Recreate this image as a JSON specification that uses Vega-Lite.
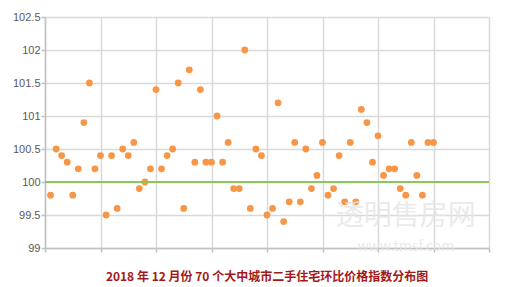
{
  "$schema": "https://vega.github.io/schema/vega-lite/v6.json",
  "width": 444,
  "height": 231,
  "autosize": {"type": "none"},
  "padding": {"left": 45, "top": 17, "right": 22, "bottom": 39},
  "background": "white",
  "config": {
    "view": {"stroke": null},
    "axis": {"gridColor": "#d9d9d9", "gridWidth": 1.5, "domainColor": "#c0c0c0", "domainWidth": 1.5, "tickColor": "#c0c0c0", "tickWidth": 1.5, "labelFont": "Liberation Sans", "labelFontSize": 11, "labelColor": "#595959", "labelOverlap": false}
  },
  "title": {
    "text": "2018 年 12 月份 70 个大中城市二手住宅环比价格指数分布图",
    "orient": "bottom",
    "anchor": "middle",
    "font": "Noto Sans CJK SC",
    "fontSize": 12,
    "fontWeight": "bold",
    "color": "#a31818",
    "offset": 18
  },
  "data": {
    "values": [
      {"i": 1, "v": 99.8}, {"i": 2, "v": 100.5}, {"i": 3, "v": 100.4}, {"i": 4, "v": 100.3}, {"i": 5, "v": 99.8},
      {"i": 6, "v": 100.2}, {"i": 7, "v": 100.9}, {"i": 8, "v": 101.5}, {"i": 9, "v": 100.2}, {"i": 10, "v": 100.4},
      {"i": 11, "v": 99.5}, {"i": 12, "v": 100.4}, {"i": 13, "v": 99.6}, {"i": 14, "v": 100.5}, {"i": 15, "v": 100.4},
      {"i": 16, "v": 100.6}, {"i": 17, "v": 99.9}, {"i": 18, "v": 100.0}, {"i": 19, "v": 100.2}, {"i": 20, "v": 101.4},
      {"i": 21, "v": 100.2}, {"i": 22, "v": 100.4}, {"i": 23, "v": 100.5}, {"i": 24, "v": 101.5}, {"i": 25, "v": 99.6},
      {"i": 26, "v": 101.7}, {"i": 27, "v": 100.3}, {"i": 28, "v": 101.4}, {"i": 29, "v": 100.3}, {"i": 30, "v": 100.3},
      {"i": 31, "v": 101.0}, {"i": 32, "v": 100.3}, {"i": 33, "v": 100.6}, {"i": 34, "v": 99.9}, {"i": 35, "v": 99.9},
      {"i": 36, "v": 102.0}, {"i": 37, "v": 99.6}, {"i": 38, "v": 100.5}, {"i": 39, "v": 100.4}, {"i": 40, "v": 99.5},
      {"i": 41, "v": 99.6}, {"i": 42, "v": 101.2}, {"i": 43, "v": 99.4}, {"i": 44, "v": 99.7}, {"i": 45, "v": 100.6},
      {"i": 46, "v": 99.7}, {"i": 47, "v": 100.5}, {"i": 48, "v": 99.9}, {"i": 49, "v": 100.1}, {"i": 50, "v": 100.6},
      {"i": 51, "v": 99.8}, {"i": 52, "v": 99.9}, {"i": 53, "v": 100.4}, {"i": 54, "v": 99.7}, {"i": 55, "v": 100.6},
      {"i": 56, "v": 99.7}, {"i": 57, "v": 101.1}, {"i": 58, "v": 100.9}, {"i": 59, "v": 100.3}, {"i": 60, "v": 100.7},
      {"i": 61, "v": 100.1}, {"i": 62, "v": 100.2}, {"i": 63, "v": 100.2}, {"i": 64, "v": 99.9}, {"i": 65, "v": 99.8},
      {"i": 66, "v": 100.6}, {"i": 67, "v": 100.1}, {"i": 68, "v": 99.8}, {"i": 69, "v": 100.6}, {"i": 70, "v": 100.6}
    ]
  },
  "layer": [
    {
      "mark": {"type": "circle", "size": 46, "color": "#f79646", "opacity": 1},
      "encoding": {
        "x": {"field": "i", "type": "quantitative", "scale": {"domain": [0, 80], "nice": false},
              "axis": {"title": null, "values": [0, 10, 20, 30, 40, 50, 60, 70, 80], "labels": false, "tickSize": 4, "grid": true}},
        "y": {"field": "v", "type": "quantitative", "scale": {"domain": [99, 102.5], "nice": false, "zero": false},
              "axis": {"title": null, "values": [99, 99.5, 100, 100.5, 101, 101.5, 102, 102.5], "format": "~g", "tickSize": 4, "labelPadding": 1, "grid": true}}
      }
    },
    {
      "mark": {"type": "rule", "color": "#8dc65b", "strokeWidth": 2},
      "encoding": {"y": {"datum": 100, "type": "quantitative",
              "axis": {"title": null, "values": [99, 99.5, 100, 100.5, 101, 101.5, 102, 102.5], "format": "~g", "tickSize": 4, "labelPadding": 1, "grid": true}}}
    },
    {
      "data": {"values": [{"i": 65, "v": 99.47, "t": "透明售房网", "s": 28}, {"i": 65, "v": 99.02, "t": "www.tmsf.com", "s": 14}]},
      "mark": {"type": "text", "font": "Noto Sans CJK SC", "color": "#e6e6e6", "opacity": 0.8},
      "encoding": {
        "x": {"field": "i", "type": "quantitative",
              "axis": {"title": null, "values": [0, 10, 20, 30, 40, 50, 60, 70, 80], "labels": false, "tickSize": 4, "grid": true}},
        "y": {"field": "v", "type": "quantitative",
              "axis": {"title": null, "values": [99, 99.5, 100, 100.5, 101, 101.5, 102, 102.5], "format": "~g", "tickSize": 4, "labelPadding": 1, "grid": true}},
        "text": {"field": "t"},
        "size": {"field": "s", "type": "quantitative", "scale": null, "legend": null}
      }
    }
  ]
}
